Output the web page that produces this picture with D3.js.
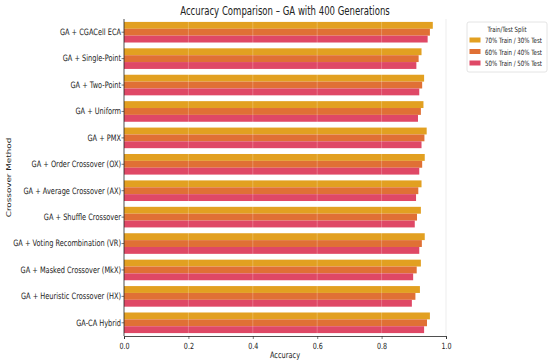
<!DOCTYPE html>
<html>
<head>
<meta charset="utf-8">
<script src="https://cdn.jsdelivr.net/npm/d3@7"></script>
<style>
  body { margin: 0; background: #fff; }
  text { font-family: "DejaVu Sans", sans-serif; fill: #222; }
</style>
</head>
<body>
<svg id="chart" width="550" height="363"></svg>
<script>
const methods = [
  'GA + CGACell ECA', 'GA + Single-Point', 'GA + Two-Point', 'GA + Uniform', 'GA + PMX',
  'GA + Order Crossover (OX)', 'GA + Average Crossover (AX)', 'GA + Shuffle Crossover',
  'GA + Voting Recombination (VR)', 'GA + Masked Crossover (MkX)',
  'GA + Heuristic Crossover (HX)', 'GA-CA Hybrid'
]
const splits = ['70% Train / 30% Test', '60% Train / 40% Test', '50% Train / 50% Test']
const acc70 = [0.959, 0.924, 0.932, 0.930, 0.940, 0.934, 0.924, 0.922, 0.934, 0.922, 0.919, 0.950]
const acc60 = [0.950, 0.915, 0.926, 0.922, 0.933, 0.926, 0.914, 0.910, 0.925, 0.909, 0.905, 0.941]
const acc50 = [0.943, 0.908, 0.917, 0.913, 0.924, 0.917, 0.907, 0.903, 0.917, 0.898, 0.894, 0.932]
const xTicks = [0.0, 0.2, 0.4, 0.6, 0.8, 1.0]
const colors = ['#e2a021', '#e07035', '#df4866']

const series = [acc70, acc60, acc50]
const squeeze = 0.75   // the picture's text is narrowed horizontally
const margin = { top: 19, right: 104, bottom: 27, left: 124 }
const w = 550 - margin.left - margin.right
const h = 363 - margin.top - margin.bottom

const svg = d3.select('#chart')
const g = svg.append('g')
  .attr('transform', `translate(${margin.left},${margin.top})`)

const y = d3.scaleBand().domain(methods).range([0, h]).paddingInner(0.22).paddingOuter(0.11)
const ySub = d3.scaleBand().domain(d3.range(splits.length)).range([0, y.bandwidth()])
const x = d3.scaleLinear().domain([0, 1]).range([0, w])

// bars
series.forEach((vals, s) => {
  g.selectAll('.bar' + s)
    .data(methods)
    .enter()
    .append('rect')
    .attr('x', 0)
    .attr('y', (d) => y(d) + ySub(s))
    .attr('width', (d, i) => x(vals[i]))
    .attr('height', ySub.bandwidth())
    .attr('fill', colors[s])
})

// grid on top, faint
g.selectAll('.grid')
  .data(xTicks.slice(1, -1))
  .enter()
  .append('line')
  .attr('x1', (d) => x(d)).attr('x2', (d) => x(d))
  .attr('y1', 0).attr('y2', h)
  .attr('stroke', '#ffffff')
  .attr('stroke-opacity', 0.3)
  .attr('stroke-width', 0.8)
g.append('line')
  .attr('x1', x(1)).attr('x2', x(1)).attr('y1', 0).attr('y2', h)
  .attr('stroke', '#e8e8e8').attr('stroke-width', 0.8)

// x axis
g.append('g')
  .attr('transform', `translate(0, ${h})`)
  .call(d3.axisBottom(x).tickValues(xTicks).tickFormat(d3.format('.1f')).tickSize(3))
  .call(a => a.select('.domain').attr('stroke', '#222').attr('stroke-width', 0.8))
  .call(a => a.selectAll('.tick line').attr('stroke', '#222').attr('stroke-width', 0.6))
  .call(a => a.selectAll('.tick text')
    .attr('font-size', 8.5).attr('dy', '0.85em').attr('fill', '#222')
    .attr('transform', `scale(${squeeze},1)`))

// y axis
g.append('g')
  .call(d3.axisLeft(y).tickSize(2.5).tickPadding(1.5))
  .call(a => a.select('.domain').attr('stroke', '#222').attr('stroke-width', 0.8).attr('d', `M0,0V${h}`))
  .call(a => a.selectAll('.tick line').attr('stroke', '#222').attr('stroke-width', 0.6))
  .call(a => a.selectAll('.tick text')
    .attr('font-size', 8.8).attr('fill', '#222')
    .attr('transform', `scale(${squeeze},1)`))

// titles
svg.append('text')
  .attr('transform', `translate(${margin.left + w / 2}, 15) scale(${squeeze},1)`)
  .attr('text-anchor', 'middle')
  .attr('font-size', 11.4)
  .text('Accuracy Comparison \u2013 GA with 400 Generations')

svg.append('text')
  .attr('transform', `translate(${margin.left + w / 2}, 358) scale(${squeeze},1)`)
  .attr('text-anchor', 'middle')
  .attr('font-size', 8.8)
  .text('Accuracy')

svg.append('text')
  .attr('transform', `translate(11, ${margin.top + h / 2}) scale(${squeeze},1) rotate(-90)`)
  .attr('text-anchor', 'middle')
  .attr('font-size', 8.8)
  .text('Crossover Method')

// legend
const lg = svg.append('g').attr('transform', 'translate(467, 22)')
lg.append('rect')
  .attr('width', 80).attr('height', 50)
  .attr('fill', '#fff').attr('stroke', '#dddddd').attr('stroke-width', 0.8).attr('rx', 2)
lg.append('text')
  .attr('transform', `translate(40, 9.5) scale(${squeeze},1)`)
  .attr('text-anchor', 'middle')
  .attr('font-size', 7.2)
  .text('Train/Test Split')
splits.forEach((s, i) => {
  lg.append('rect')
    .attr('x', 2.5).attr('y', 15.5 + i * 11.5)
    .attr('width', 11).attr('height', 5)
    .attr('fill', colors[i])
  lg.append('text')
    .attr('transform', `translate(18, ${21 + i * 11.5}) scale(${squeeze},1)`)
    .attr('font-size', 7.3)
    .text(s)
})
</script>
</body>
</html>
